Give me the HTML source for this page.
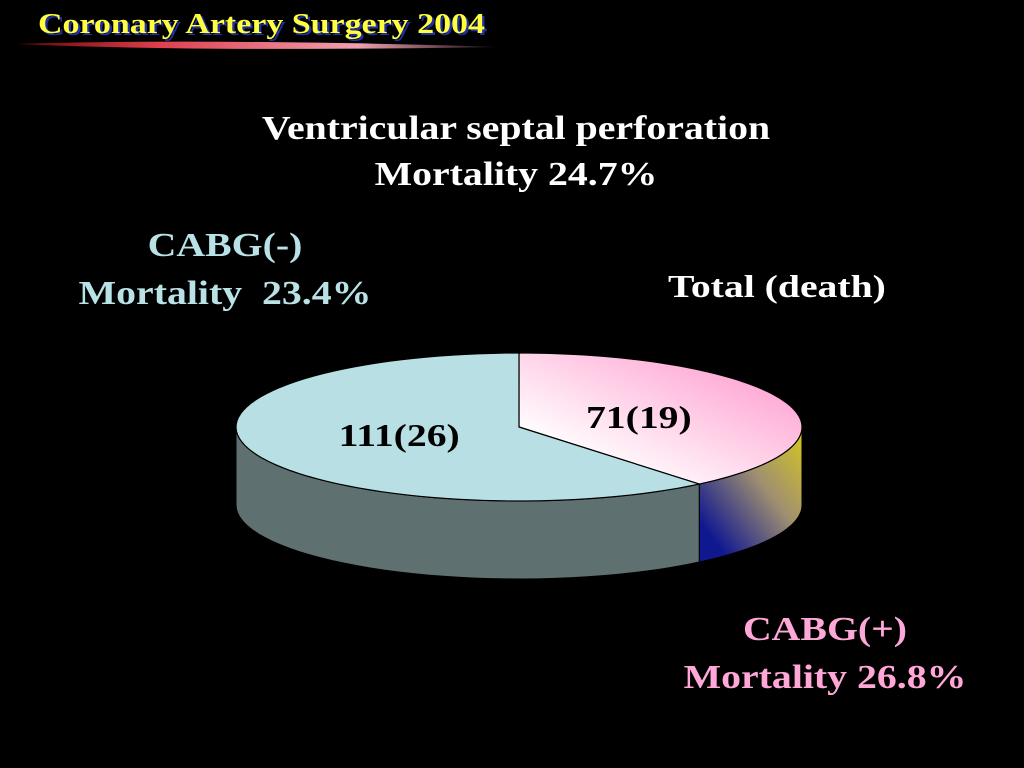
<!DOCTYPE html>
<html><head><meta charset="utf-8"><style>
body{margin:0;background:#000;width:1024px;height:768px;overflow:hidden;font-family:"Liberation Serif",serif;}
.t{position:absolute;font-weight:bold;white-space:nowrap;text-align:center;transform:scaleX(1.17);}
</style></head><body>
<div style="position:relative;width:1024px;height:768px;">
<svg style="position:absolute;left:0;top:0" width="520" height="60">
<defs><linearGradient id="ul" x1="0" x2="1"><stop offset="0" stop-color="#600"/><stop offset="0.3" stop-color="#e04050"/><stop offset="0.7" stop-color="#f0a0b0"/><stop offset="1" stop-color="#000"/></linearGradient></defs>
<path d="M15 44 Q200 38 505 47 Q200 52 15 44Z" fill="url(#ul)"/></svg>
<div class="t" style="left:38px;top:8px;font-size:29px;color:#ffff40;text-shadow:2px 2px 0 #2030a0;transform-origin:left center;">Coronary Artery Surgery 2004</div>
<div class="t" style="left:216px;width:600px;top:106px;font-size:34px;line-height:46px;color:#fff;">Ventricular septal perforation<br>Mortality 24.7%</div>
<div class="t" style="left:60px;width:330px;top:222px;font-size:34px;line-height:48px;color:#b8e2e6;">CABG(-)<br>Mortality&nbsp; 23.4%</div>
<div class="t" style="left:668px;top:268px;font-size:32px;color:#fff;transform:scaleX(1.24);transform-origin:left center;">Total (death)</div>
<div class="t" style="left:660px;width:330px;top:606px;font-size:34px;line-height:48px;color:#ffa8d8;">CABG(+)<br>Mortality 26.8%</div>
<svg id="pie" style="position:absolute;left:0;top:0" width="1024" height="768">
<defs>
<linearGradient id="pk" x1="0" y1="1" x2="1" y2="0"><stop offset="0.2" stop-color="#fff"/><stop offset="1" stop-color="#ff90c8"/></linearGradient>
<linearGradient id="sd" x1="0" y1="1" x2="1" y2="0"><stop offset="0.15" stop-color="#101890"/><stop offset="0.6" stop-color="#a09070"/><stop offset="1" stop-color="#d8c820"/></linearGradient>
</defs></svg>
</div>
<script>
const categories=["CABG(+)","CABG(-)"];
const counts=[71,111];
const labels=["71(19)","111(26)"];
const cx=519,cy=427,rx=283,ry=74,depth=78;
const tops=["url(#pk)","#b8e0e4"],sides=["url(#sd)","#5f7070"];
const svg=document.getElementById('pie');const NS="http://www.w3.org/2000/svg";
const total=counts.reduce((a,b)=>a+b,0);
function pt(t,dy){return [cx+rx*Math.cos(t),cy+ry*Math.sin(t)+(dy||0)];}
let a=-Math.PI/2;const segs=[];
counts.forEach((c,i)=>{const s=a,e=a+c/total*2*Math.PI;segs.push([s,e]);a=e;});
segs.forEach((sg,i)=>{
 let s=Math.max(sg[0],0),e=Math.min(sg[1],Math.PI);
 if(e<=s)return;
 let d="M"+pt(s)+" ";
 const N=40;for(let k=0;k<=N;k++){d+="L"+pt(s+(e-s)*k/N)+" ";}
 for(let k=N;k>=0;k--){d+="L"+pt(s+(e-s)*k/N,depth)+" ";}
 const p=document.createElementNS(NS,'path');p.setAttribute('d',d+"Z");p.setAttribute('fill',sides[i]);p.setAttribute('stroke','#000');p.setAttribute('stroke-width','1');
 
 
 svg.appendChild(p);
});
segs.forEach((sg,i)=>{
 let d="M"+cx+","+cy+" ";const N=80;
 for(let k=0;k<=N;k++){d+="L"+pt(sg[0]+(sg[1]-sg[0])*k/N)+" ";}
 const p=document.createElementNS(NS,'path');p.setAttribute('d',d+"Z");p.setAttribute('fill',tops[i]);p.setAttribute('stroke','#000');p.setAttribute('stroke-width','1.2');
 
 
 svg.appendChild(p);
 const m=(sg[0]+sg[1])/2;const lx=cx+rx*0.45*Math.cos(m),ly=cy+ry*0.36*Math.sin(m)+10;
 const t=document.createElementNS(NS,'text');t.setAttribute('x',0);t.setAttribute('y',0);t.setAttribute('text-anchor','middle');
 t.setAttribute('transform','translate('+lx+','+ly+') scale(1.24,1)');
 t.setAttribute('font-family','Liberation Serif, serif');t.setAttribute('font-weight','bold');t.setAttribute('font-size','32');t.textContent=labels[i];
 
 
 svg.appendChild(t);
});
</script>
</body></html>
